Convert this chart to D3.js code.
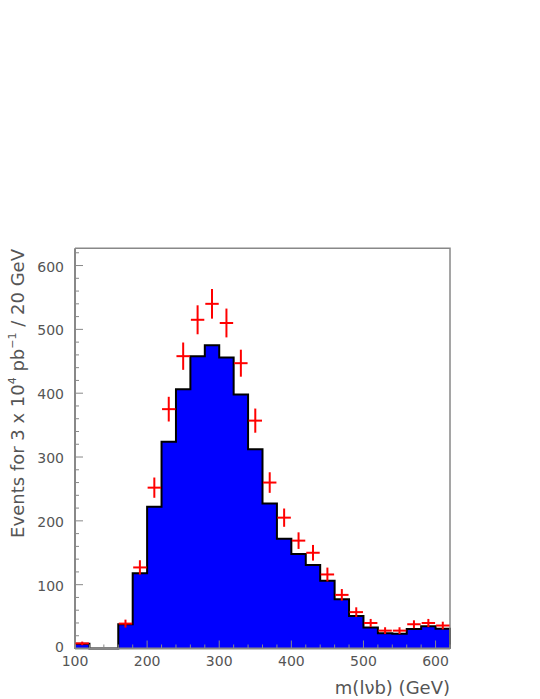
<!DOCTYPE html>
<html>
<head>
<meta charset="utf-8">
<script src="https://cdn.jsdelivr.net/npm/d3@7"></script>
<style>
  html, body { margin: 0; padding: 0; background: #fff; }
  svg { display: block; }
  text { font-family: "DejaVu Sans", sans-serif; fill: #555; }
</style>
</head>
<body>
<div id="chart"></div>
<script>
// Bin centres (GeV), 20 GeV wide bins
const binCentres = [110,130,150,170,190,210,230,250,270,290,310,330,350,370,390,410,430,450,470,490,510,530,550,570,590,610];
// Filled histogram (expected events per bin)
const histValues = [7.5,0,0,38,118,222,324,406,458,475,456,398,312,227,172,148,131,106,77,51,33,24,23,30.5,35,31];
// Red points (pseudo-data) with sqrt(N) errors
const pointValues = [8,0,0,39,127,252,375,458,515,540,510,447,357,260,205,169,150,116,84,57,40,28,28,38,40,36];
// Axis tick labels
const xTicks = [100,200,300,400,500,600];
const yTicks = [0,100,200,300,400,500,600];
const binWidth = 20;

const W = 540, H = 699;
const m = {left: 75, right: 90, top: 248.3, bottom: 50.5};

const svg = d3.select("#chart").append("svg").attr("width", W).attr("height", H);

const x = d3.scaleLinear().domain([100, 620]).range([m.left, W - m.right]);
const y = d3.scaleLinear().domain([0, 627]).range([H - m.bottom, m.top]);

// Histogram fill + outline
const stepPts = [];
binCentres.forEach((c, i) => {
  stepPts.push([c - binWidth/2, histValues[i]]);
  stepPts.push([c + binWidth/2, histValues[i]]);
});
const area = d3.area().x(d => x(d[0])).y0(y(0)).y1(d => y(d[1]));
svg.append("path").datum(stepPts).attr("d", area).attr("fill", "#0000ff");

const outline = [[binCentres[0] - binWidth/2, 0], ...stepPts, [binCentres[binCentres.length-1] + binWidth/2, 0]];
svg.append("path").datum(outline)
  .attr("d", d3.line().x(d => x(d[0])).y(d => y(d[1])))
  .attr("fill", "none").attr("stroke", "#000").attr("stroke-width", 2);

// Frame (top & right)
svg.append("path")
  .attr("d", `M${x(100)},${y(627)}H${x(620)}V${y(0)}`)
  .attr("fill", "none").attr("stroke", "#888").attr("stroke-width", 1.5);

// Axes
const axisColor = "#888";
const gx = svg.append("g");
gx.append("line").attr("x1", x(100)).attr("x2", x(620)).attr("y1", y(0)).attr("y2", y(0))
  .attr("stroke", axisColor).attr("stroke-width", 2);
d3.range(100, 621, 20).forEach(v => {
  const major = v % 100 === 0;
  gx.append("line").attr("x1", x(v)).attr("x2", x(v))
    .attr("y1", y(0)).attr("y2", y(0) - (major ? 8 : 4))
    .attr("stroke", axisColor).attr("stroke-width", 1);
});
xTicks.forEach(v => {
  gx.append("text").attr("x", x(v)).attr("y", y(0) + 17)
    .attr("text-anchor", "middle").attr("font-size", 14).text(v);
});

const gy = svg.append("g");
gy.append("line").attr("x1", x(100)).attr("x2", x(100)).attr("y1", y(0)).attr("y2", y(627))
  .attr("stroke", axisColor).attr("stroke-width", 2);
d3.range(0, 627, 20).forEach(v => {
  const major = v % 100 === 0;
  gy.append("line").attr("x1", x(100)).attr("x2", x(100) + (major ? 8 : 4))
    .attr("y1", y(v)).attr("y2", y(v))
    .attr("stroke", axisColor).attr("stroke-width", 1);
});
yTicks.forEach(v => {
  gy.append("text").attr("x", x(100) - 11).attr("y", y(v) + (v === 0 ? 3 : 6))
    .attr("text-anchor", "end").attr("font-size", 14).text(v);
});

// Data points with error crosses
const pts = binCentres.map((c, i) => ({c, v: pointValues[i]})).filter(d => d.v > 0);
const gp = svg.append("g").attr("stroke", "#ff0000").attr("stroke-width", 2);
pts.forEach(d => {
  const e = Math.sqrt(d.v);
  gp.append("line").attr("x1", x(d.c - binWidth/2) + 0.5).attr("x2", x(d.c + binWidth/2) - 0.5)
    .attr("y1", y(d.v)).attr("y2", y(d.v));
  gp.append("line").attr("x1", x(d.c)).attr("x2", x(d.c))
    .attr("y1", y(d.v - e)).attr("y2", y(d.v + e));
});

// Axis titles
svg.append("text").attr("x", x(620)).attr("y", 694)
  .attr("text-anchor", "end").attr("font-size", 18)
  .text("m(l\u03BDb) (GeV)");

const yt = svg.append("text")
  .attr("transform", `translate(24, 249) rotate(-90)`)
  .attr("text-anchor", "end").attr("font-size", 18);
yt.append("tspan").text("Events for 3 x 10");
yt.append("tspan").attr("dy", -8).attr("font-size", 11).text("4");
yt.append("tspan").attr("dy", 8).text(" pb");
yt.append("tspan").attr("dy", -8).attr("font-size", 11).text("\u22121");
yt.append("tspan").attr("dy", 8).text(" / 20 GeV");
</script>
</body>
</html>
